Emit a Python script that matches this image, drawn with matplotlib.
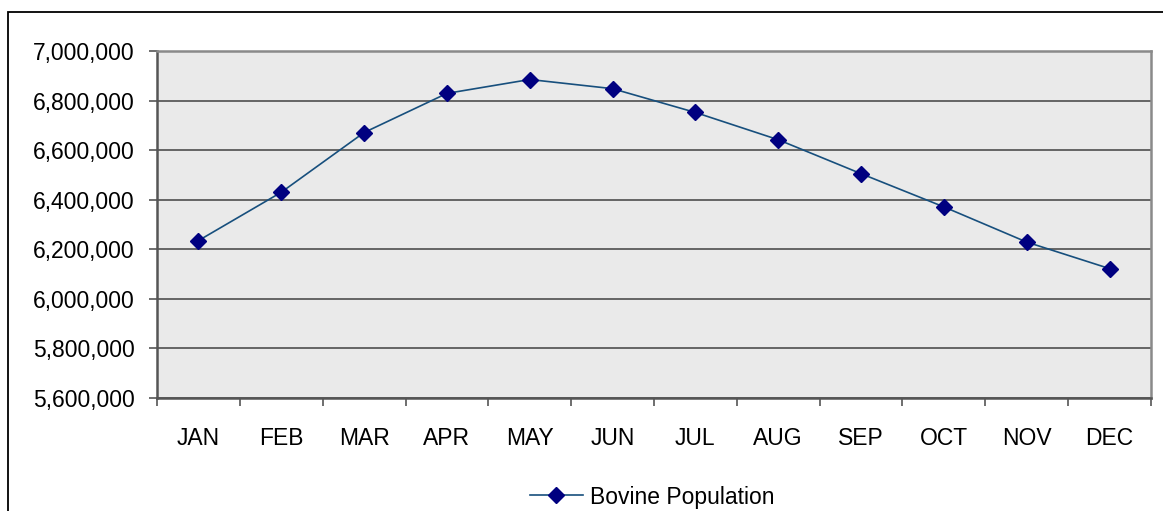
import matplotlib.pyplot as plt
from matplotlib.patches import Rectangle
from matplotlib.ticker import FuncFormatter, FixedLocator
import numpy as np

# data
months = ["JAN", "FEB", "MAR", "APR", "MAY", "JUN",
          "JUL", "AUG", "SEP", "OCT", "NOV", "DEC"]
population = [6235000, 6430000, 6671000, 6829000, 6885000, 6848000,
              6752000, 6642000, 6505000, 6371000, 6229000, 6122000]
series_name = "Bovine Population"

plt.rcParams['font.family'] = ['Liberation Sans', 'DejaVu Sans']

fig = plt.figure(figsize=(11.63, 5.11), dpi=100)
ax = fig.add_axes([157 / 1163, 1 - 398 / 511, (1151 - 157) / 1163, (398 - 51) / 511])
ax.set_facecolor("#eaeaea")

# outer chart border (runs off the right and bottom edge)
fig.patches.append(Rectangle((8 / 1163, -0.05), 1.1, 1 - 12 / 511 + 0.05,
                             transform=fig.transFigure, fill=False,
                             edgecolor="black", linewidth=1.3, zorder=0))

x = np.arange(len(months))
ax.plot(x, population, color="#174f7d", linewidth=1.2, marker="D",
        markersize=8, markerfacecolor="#000080", markeredgecolor="#000080",
        label=series_name, zorder=3)

ax.set_ylim(5600000, 7000000)
ax.set_yticks(np.arange(5600000, 7000001, 200000))
ax.yaxis.set_major_formatter(FuncFormatter(lambda v, p: f"{int(v):,}"))
ax.grid(axis="y", color="#5a5a5a", linewidth=1.3)
ax.set_axisbelow(True)

ax.set_xlim(-0.5, len(months) - 0.5)
ax.xaxis.set_major_locator(FixedLocator(np.arange(-0.5, len(months), 1)))
ax.xaxis.set_minor_locator(FixedLocator(x))
ax.set_xticklabels([], minor=False)
ax.set_xticklabels(months, minor=True)

ax.tick_params(axis="x", which="major", length=6, width=1.2, color="#555555", direction="out")
ax.tick_params(axis="x", which="minor", length=0, pad=21, labelsize=16.5)
ax.tick_params(axis="y", length=6, width=1.2, color="#555555", pad=10, labelsize=16.5)

for side in ["left", "bottom"]:
    ax.spines[side].set_color("#555555")
    ax.spines[side].set_linewidth(1.8)
for side in ["top", "right"]:
    ax.spines[side].set_color("#8a8a8a")
    ax.spines[side].set_linewidth(1.8)

fig.legend(loc="center", bbox_to_anchor=(652 / 1163, 1 - 497 / 511), frameon=False,
           fontsize=16.5, handlelength=2.3, handletextpad=0.3)

fig.savefig("out.png", dpi=100)
